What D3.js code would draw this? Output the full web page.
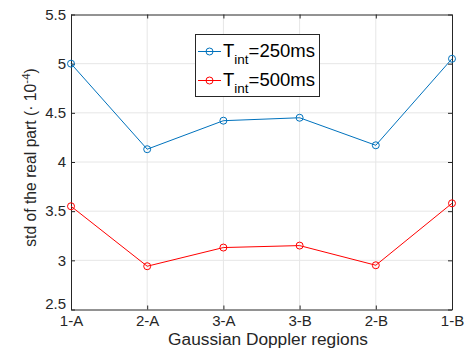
<!DOCTYPE html>
<html><head><meta charset="utf-8">
<script src="https://cdn.jsdelivr.net/npm/d3@7"></script>
<style>body{margin:0;background:#fff;}svg{display:block;font-family:"Liberation Sans",Arial,sans-serif;}</style>
</head><body><svg id="c" width="475" height="349"></svg>
<script>
const categories = ["1-A","2-A","3-A","3-B","2-B","1-B"];
const series250 = [5.00,4.13,4.42,4.45,4.17,5.05];
const series500 = [3.55,2.94,3.13,3.15,2.95,3.58];
const yTicks = [2.5,3,3.5,4,4.5,5,5.5];
const seriesNames = ["250ms","500ms"];
const seriesColors = ["#0072BD","#FF0000"];

const svg = d3.select("#c");
const m = {l:71, r:452, t:14.5, b:309.5};
const x = d3.scalePoint().domain(categories).range([m.l, m.r]);
const y = d3.scaleLinear().domain([2.5,5.5]).range([m.b, m.t]);
const ax = "#262626";

// grid
svg.append("g").selectAll("line").data(yTicks.slice(1,-1)).join("line")
  .attr("x1",m.l).attr("x2",m.r).attr("y1",d=>y(d)).attr("y2",d=>y(d))
  .attr("stroke","#e6e6e6").attr("stroke-width",1);
svg.append("g").selectAll("line").data(categories.slice(1,-1)).join("line")
  .attr("y1",m.t).attr("y2",m.b).attr("x1",d=>x(d)).attr("x2",d=>x(d))
  .attr("stroke","#e6e6e6").attr("stroke-width",1);

// axes
const fmt = d => d3.format("")(d);
const yAxis = svg.append("g").attr("transform",`translate(${m.l},0)`)
  .call(d3.axisLeft(y).tickValues(yTicks).tickFormat(fmt).tickSizeInner(-4).tickSizeOuter(0).tickPadding(5));
const yAxisR = svg.append("g").attr("transform",`translate(${m.r},0)`)
  .call(d3.axisRight(y).tickValues(yTicks).tickFormat("").tickSizeInner(-4).tickSizeOuter(0));
const xAxis = svg.append("g").attr("transform",`translate(0,${m.b})`)
  .call(d3.axisBottom(x).tickSizeInner(-4).tickSizeOuter(0));
const xAxisT = svg.append("g").attr("transform",`translate(0,${m.t})`)
  .call(d3.axisTop(x).tickFormat("").tickSizeInner(-4).tickSizeOuter(0));
[yAxis,yAxisR,xAxis,xAxisT].forEach(g=>{
  g.select(".domain").attr("stroke",ax).attr("stroke-width",1);
  g.selectAll(".tick line").attr("stroke",ax);
  g.selectAll("text").attr("fill",ax).style("font-size","15px").style("font-family","'Liberation Sans',Arial,sans-serif");
});
xAxis.selectAll("text").attr("y",16.5).attr("dy","0");
// lift the lowest y label slightly so it clears the first x label
yAxis.selectAll(".tick text").filter(d=>d===yTicks[0]).attr("y",-5.5);

// series
const data = [series250, series500];
const line = d3.line().x((d,i)=>x(categories[i])).y(d=>y(d));
data.forEach((s,k)=>{
  svg.append("path").datum(s).attr("d",line).attr("fill","none")
    .attr("stroke",seriesColors[k]).attr("stroke-width",1);
  svg.append("g").selectAll("circle").data(s).join("circle")
    .attr("cx",(d,i)=>x(categories[i])).attr("cy",d=>y(d)).attr("r",3.5)
    .attr("fill","none").attr("stroke",seriesColors[k]).attr("stroke-width",1);
});

// axis labels
svg.append("text").attr("x",268).attr("y",345).attr("text-anchor","middle")
  .attr("fill",ax).style("font-size","17.3px").text("Gaussian Doppler regions");
const yl = svg.append("text").attr("transform","translate(36,157.5) rotate(-90)")
  .attr("text-anchor","middle").attr("fill",ax).style("font-size","15.7px");
yl.append("tspan").text("std of the real part (\u00B7 10");
yl.append("tspan").attr("dy","-6").style("font-size","11.5px").text("-4");
yl.append("tspan").attr("dy","6").text(")");

// legend
const lg = svg.append("g");
lg.append("rect").attr("x",195.5).attr("y",34.5).attr("width",124).attr("height",62)
  .attr("fill","#fff").attr("stroke",ax).attr("stroke-width",1);
seriesNames.forEach((n,k)=>{
  const cy = 51.5 + k*29;
  lg.append("line").attr("x1",198).attr("x2",221).attr("y1",cy).attr("y2",cy)
    .attr("stroke",seriesColors[k]).attr("stroke-width",1);
  lg.append("circle").attr("cx",209.5).attr("cy",cy).attr("r",3.5).attr("fill","none")
    .attr("stroke",seriesColors[k]).attr("stroke-width",1);
  const t = lg.append("text").attr("x",223).attr("y",cy+5).attr("fill","#000").style("font-size","18.5px");
  t.append("tspan").text("T");
  t.append("tspan").attr("dy","7").style("font-size","13.5px").text("int");
  t.append("tspan").attr("dy","-7").text("=" + n);
});
</script></body></html>
